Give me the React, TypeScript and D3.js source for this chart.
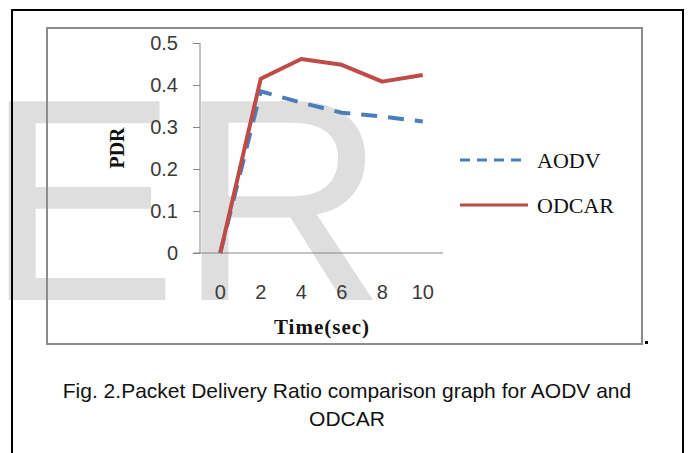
import React, { useRef, useEffect } from "react";
import * as d3 from "d3";

const times = ["0", "2", "4", "6", "8", "10"];
const aodv = [0, 0.385, 0.358, 0.334, 0.325, 0.313];
const odcar = [0, 0.415, 0.462, 0.448, 0.408, 0.424];
const yTicks = [0, 0.1, 0.2, 0.3, 0.4, 0.5];

const W = 690;
const H = 453;

const App: React.FC = () => {
  const svgRef = useRef<SVGSVGElement | null>(null);

  useEffect(() => {
    if (!svgRef.current) return;
    const svg = d3.select(svgRef.current);
    svg.selectAll("*").remove();

    svg.append("rect").attr("width", W).attr("height", H).attr("fill", "#fff");

    // watermark
    svg
      .append("text")
      .attr("x", -15)
      .attr("y", 300)
      .attr("font-family", "Liberation Sans, Arial, sans-serif")
      .attr("font-size", 289)
      .attr("fill", "#dedede")
      .text("ER");

    // outer page border
    svg
      .append("rect")
      .attr("x", 12)
      .attr("y", 10)
      .attr("width", 671)
      .attr("height", 460)
      .attr("fill", "none")
      .attr("stroke", "#000")
      .attr("stroke-width", 2);

    // chart frame
    svg
      .append("rect")
      .attr("x", 47)
      .attr("y", 28)
      .attr("width", 595)
      .attr("height", 316)
      .attr("fill", "none")
      .attr("stroke", "#8c8c8c")
      .attr("stroke-width", 2);
    svg.append("rect").attr("x", 645).attr("y", 341).attr("width", 3).attr("height", 3).attr("fill", "#000");

    const x = d3.scalePoint<string>().domain(times).range([200, 443]).padding(0.5);
    const y = d3.scaleLinear().domain([0, 0.5]).range([253, 43]);

    const axisColor = "#868686";
    const tickFont = "Liberation Sans, Arial, sans-serif";

    // y axis
    const gy = svg.append("g").attr("transform", "translate(200,0)");
    gy.call(
      d3
        .axisLeft(y)
        .tickValues(yTicks)
        .tickSize(7)
        .tickPadding(15)
        .tickFormat((d) => (d === 0 ? "0" : d3.format(".1f")(d as number)))
    );
    gy.select(".domain").attr("stroke", axisColor).attr("d", `M0,${y(0.5)}V${y(0)}`);
    gy.selectAll(".tick line").attr("stroke", axisColor);
    gy.selectAll(".tick text")
      .attr("font-family", tickFont)
      .attr("font-size", 20)
      .attr("fill", "#3a3a3a");

    // x axis line
    svg
      .append("line")
      .attr("x1", 193)
      .attr("x2", 443)
      .attr("y1", y(0))
      .attr("y2", y(0))
      .attr("stroke", axisColor)
      .attr("stroke-width", 1);

    svg
      .append("g")
      .selectAll("text")
      .data(times)
      .join("text")
      .attr("x", (d) => x(d)!)
      .attr("y", 299)
      .attr("text-anchor", "middle")
      .attr("font-family", tickFont)
      .attr("font-size", 20)
      .attr("fill", "#3a3a3a")
      .text((d) => d);

    // axis titles
    svg
      .append("text")
      .attr("transform", "translate(124,148) rotate(-90)")
      .attr("text-anchor", "middle")
      .attr("font-family", "Liberation Serif, serif")
      .attr("font-weight", "bold")
      .attr("font-size", 20)
      .attr("fill", "#111")
      .text("PDR");

    svg
      .append("text")
      .attr("x", 322)
      .attr("y", 334)
      .attr("text-anchor", "middle")
      .attr("font-family", "Liberation Serif, serif")
      .attr("font-weight", "bold")
      .attr("font-size", 21)
      .attr("letter-spacing", 1)
      .attr("fill", "#111")
      .text("Time(sec)");

    const line = d3
      .line<number>()
      .x((_, i) => x(times[i])!)
      .y((d) => y(d));

    svg
      .append("path")
      .datum(aodv)
      .attr("d", line)
      .attr("fill", "none")
      .attr("stroke", "#4a7ebb")
      .attr("stroke-width", 4)
      .attr("stroke-dasharray", "16,11");

    svg
      .append("path")
      .datum(odcar)
      .attr("d", line)
      .attr("fill", "none")
      .attr("stroke", "#be4b48")
      .attr("stroke-width", 4)
      .attr("stroke-linejoin", "round");

    // legend
    const legend = [
      { name: "AODV", color: "#4a7ebb", dash: "10,7", y: 160 },
      { name: "ODCAR", color: "#be4b48", dash: null, y: 205 },
    ];
    const lg = svg.append("g");
    legend.forEach((l) => {
      lg.append("line")
        .attr("x1", 460)
        .attr("x2", 528)
        .attr("y1", l.y)
        .attr("y2", l.y)
        .attr("stroke", l.color)
        .attr("stroke-width", 3)
        .attr("stroke-dasharray", l.dash);
      lg.append("text")
        .attr("x", 537)
        .attr("y", l.y + 8)
        .attr("font-family", "Liberation Serif, serif")
        .attr("font-size", 22)
        .attr("fill", "#111")
        .text(l.name);
    });

    // caption
    const cap = svg
      .append("text")
      .attr("text-anchor", "middle")
      .attr("font-family", "Liberation Sans, Arial, sans-serif")
      .attr("font-size", 21)
      .attr("fill", "#111");
    cap.append("tspan").attr("x", 347).attr("y", 398).text("Fig. 2.Packet Delivery Ratio comparison graph for AODV and");
    cap.append("tspan").attr("x", 347).attr("y", 426).text("ODCAR");
  }, []);

  return (
    <svg
      ref={svgRef}
      width={W}
      height={H}
      style={{ position: "absolute", top: 0, left: 0, display: "block" }}
    ></svg>
  );
};

export default App;
